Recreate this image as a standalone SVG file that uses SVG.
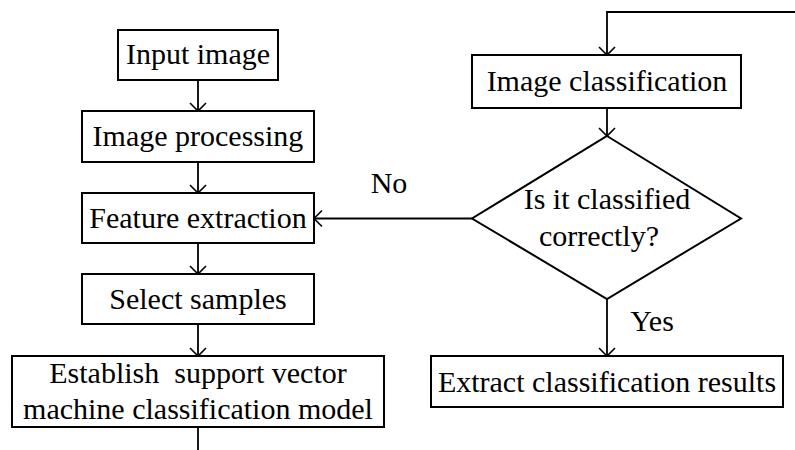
<svg xmlns="http://www.w3.org/2000/svg" width="795" height="450" viewBox="0 0 795 450">
  <defs>
    <!-- open V arrowhead, tip at the end of the path -->
    <marker id="arrow" viewBox="0 0 12 20" refX="10" refY="10" markerWidth="12" markerHeight="20" markerUnits="userSpaceOnUse" orient="auto">
      <path d="M2,2 L10,10 L2,18" fill="none" stroke="#000" stroke-width="1.6"/>
    </marker>
  </defs>
  <style>
    .box { fill: #fff; stroke: #000; stroke-width: 2; }
    .lbl { font-family: "Liberation Serif", "Times New Roman", serif; font-size: 30px; fill: #000; text-anchor: middle; white-space: pre; }
    .edge { fill: none; stroke: #000; stroke-width: 1.8; }
  </style>
  <rect width="795" height="450" fill="#fff"/>

  <g id="connectors">
    <line class="edge" x1="198" y1="80" x2="198" y2="111" marker-end="url(#arrow)"/>
    <line class="edge" x1="198" y1="162" x2="198" y2="193" marker-end="url(#arrow)"/>
    <line class="edge" x1="198" y1="243" x2="198" y2="274" marker-end="url(#arrow)"/>
    <line class="edge" x1="198" y1="324" x2="198" y2="356" marker-end="url(#arrow)"/>
    <line class="edge" x1="198" y1="427" x2="198" y2="450"/>
    <polyline class="edge" points="795,12 607,12 607,55" marker-end="url(#arrow)"/>
    <line class="edge" x1="607" y1="108" x2="607" y2="136" marker-end="url(#arrow)"/>
    <line class="edge" x1="472" y1="218.5" x2="314" y2="218.5" marker-end="url(#arrow)"/>
    <line class="edge" x1="607" y1="299" x2="607" y2="356" marker-end="url(#arrow)"/>
    <text class="lbl" x="389" y="193">No</text>
    <text class="lbl" x="652" y="331">Yes</text>
  </g>

  <g id="input-image">
    <rect class="box" x="118" y="30" width="160" height="50"/>
    <text class="lbl" x="198" y="64">Input image</text>
  </g>
  <g id="image-processing">
    <rect class="box" x="82" y="111" width="232" height="51"/>
    <text class="lbl" x="198" y="146">Image processing</text>
  </g>
  <g id="feature-extraction">
    <rect class="box" x="82" y="193" width="232" height="50"/>
    <text class="lbl" x="198" y="228">Feature extraction</text>
  </g>
  <g id="select-samples">
    <rect class="box" x="82" y="274" width="232" height="50"/>
    <text class="lbl" x="198" y="309">Select samples</text>
  </g>
  <g id="svm-model">
    <rect class="box" x="12" y="356" width="372" height="71"/>
    <text class="lbl" x="198" y="383">Establish  support vector</text>
    <text class="lbl" x="198" y="419">machine classification model</text>
  </g>
  <g id="image-classification">
    <rect class="box" x="472" y="55" width="269" height="53"/>
    <text class="lbl" x="607" y="91">Image classification</text>
  </g>
  <g id="decision">
    <polygon class="box" points="607,136 741,218.5 607,299 472,218.5"/>
    <text class="lbl" x="607" y="209">Is it classified</text>
    <text class="lbl" x="599" y="246">correctly?</text>
  </g>
  <g id="extract-results">
    <rect class="box" x="431" y="356" width="352" height="51"/>
    <text class="lbl" x="607" y="392">Extract classification results</text>
  </g>
</svg>
